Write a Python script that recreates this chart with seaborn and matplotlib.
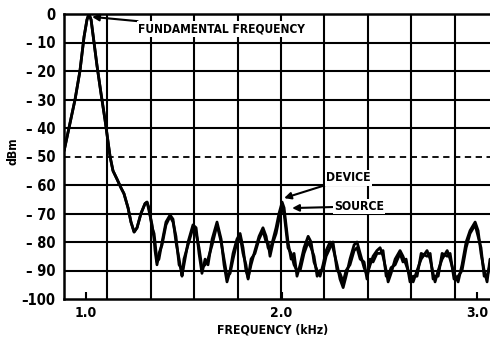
import matplotlib
matplotlib.use("Agg")
import matplotlib.pyplot as plt
import seaborn as sns
import pandas as pd
from matplotlib import font_manager as fm

FREQ = [
    0.888, 0.944, 0.969, 0.990, 1.005, 1.015, 1.026, 1.041, 1.056, 1.077,
    1.097, 1.107, 1.123, 1.138, 1.159, 1.179, 1.194, 1.215, 1.230, 1.246,
    1.261, 1.281, 1.302, 1.312, 1.322, 1.338, 1.348, 1.353, 1.363, 1.373,
    1.389, 1.409, 1.430, 1.445, 1.460, 1.476, 1.486, 1.491, 1.501, 1.522,
    1.547, 1.563, 1.578, 1.593, 1.609, 1.624, 1.645, 1.670, 1.691, 1.706,
    1.721, 1.737, 1.752, 1.772, 1.788, 1.803, 1.818, 1.829, 1.844, 1.864,
    1.885, 1.905, 1.921, 1.931, 1.941, 1.957, 1.972, 1.987, 2.003, 2.013,
    2.023, 2.033, 2.049, 2.064, 2.079, 2.095, 2.115, 2.136, 2.151, 2.166,
    2.182, 2.197, 2.212, 2.228, 2.248, 2.263, 2.284, 2.299, 2.315, 2.330,
    2.350, 2.371, 2.386, 2.402, 2.422, 2.437, 2.453, 2.468, 2.488, 2.504,
    2.519, 2.535, 2.545, 2.560, 2.581, 2.606, 2.621, 2.637, 2.657, 2.673,
    2.693, 2.714, 2.744, 2.760, 2.775, 2.785, 2.801, 2.821, 2.847, 2.862,
    2.882, 2.903, 2.923, 2.944, 2.964, 2.990, 3.005, 3.020, 3.036, 3.051,
    3.066,
]

DEVICE = [
    -48, -30, -20, -8, -2, 0, -2, -10, -18, -28,
    -37, -42, -50, -55, -58, -61, -63, -68, -73, -76.5,
    -75, -70, -66.5, -66, -68, -75, -77, -80, -87, -86,
    -80, -73, -70.5, -72, -80, -86, -90, -91.5, -88, -80,
    -74, -75, -84, -91, -86, -88, -79, -73, -79, -88,
    -94, -90, -84, -79, -77, -82, -90, -92.6, -88, -83,
    -78, -75, -78, -82, -83, -79, -75, -70, -66, -68,
    -74, -80, -86, -84, -92, -88, -82, -78, -80, -87,
    -90, -92, -88, -83, -80, -82, -88, -93, -96, -92,
    -86, -81, -80, -84, -89, -91.5, -88, -85, -83, -82,
    -85, -90, -94, -91, -86, -83, -85, -88, -92, -94,
    -90, -86, -83, -86, -91, -94, -90, -86, -83, -86,
    -91, -94, -88, -80, -76, -73, -76, -84, -90, -94,
    -86,
]

SOURCE = [
    -48, -30, -20, -8, -2, 0, -2, -10, -18, -28,
    -37, -42, -50, -55, -58, -61, -63, -68, -73, -76.5,
    -75, -70, -66.5, -66, -69, -74, -79, -83, -88, -84,
    -81, -74, -71, -73, -78, -88, -89, -92, -86, -81,
    -75, -77, -82, -89, -88, -86, -81, -74, -80, -86,
    -92, -91, -86, -80, -78, -84, -88, -93, -86, -84,
    -79, -76, -80, -80, -85, -80, -77, -72, -68, -70,
    -76, -82, -84, -88, -90, -90, -84, -80, -82, -85,
    -92, -90, -90, -85, -82, -80, -90, -91, -94, -90,
    -88, -83, -82, -86, -87, -93, -86, -87, -84, -84,
    -83, -92, -92, -89, -88, -84, -87, -86, -94, -92,
    -92, -84, -85, -84, -93, -92, -92, -84, -85, -84,
    -93, -92, -90, -82, -77, -74, -78, -82, -92, -92,
    -88,
]

X_TICKS = [1.0, 2.0, 3.0]
X_TICK_LABELS = ["1.0", "2.0", "3.0"]
Y_TICKS = [0, -10, -20, -30, -40, -50, -60, -70, -80, -90, -100]
Y_TICK_LABELS = ["0", "\u2013 10", "\u2013 20", "\u2013 30", "\u2013 40", "\u2013 50",
                 "\u2013 60", "\u2013 70", "\u2013 80", "\u2013 90", "\u2013100"]

sns.set_style("white")
names = {f.name for f in fm.fontManager.ttflist}
if "Liberation Sans Narrow" in names:
    FONT = ["Liberation Sans Narrow", "DejaVu Sans"]
    STRETCH = "normal"
else:
    FONT = ["DejaVu Sans"]
    STRETCH = "condensed"
plt.rcParams["font.family"] = FONT
plt.rcParams["font.weight"] = "bold"
plt.rcParams["font.stretch"] = STRETCH
plt.rcParams["text.color"] = "black"
plt.rcParams["axes.labelcolor"] = "black"
plt.rcParams["xtick.color"] = "black"
plt.rcParams["ytick.color"] = "black"

fig = plt.figure(figsize=(4.9, 3.44), dpi=100)
ax = fig.add_axes([64 / 490, 45 / 344, 1 - 64 / 490, 285 / 344])

x0, x1 = 0.8875, 3.066
step = 0.2219

# grid
for k in range(1, 10):
    ax.axvline(x0 + k * step, color="black", lw=1.5, zorder=1)
for yv in Y_TICKS[1:-1]:
    if yv == -50:
        ax.axhline(yv, color="black", lw=1.3, ls=(0, (3.5, 2.5)), zorder=1)
    else:
        ax.axhline(yv, color="black", lw=1.5, zorder=1)

df = pd.DataFrame({"freq": FREQ + FREQ, "dbm": DEVICE + SOURCE,
                   "trace": ["device"] * len(FREQ) + ["source"] * len(FREQ)})
sns.lineplot(data=df, x="freq", y="dbm", units="trace", estimator=None,
             color="black", lw=2.0, ax=ax, zorder=3, sort=False)

ax.set_xlim(x0, x1)
ax.set_ylim(-100, 0)

for side in ["left", "top", "bottom"]:
    ax.spines[side].set_visible(True)
    ax.spines[side].set_color("black")
    ax.spines[side].set_linewidth(1.8)
ax.spines["right"].set_visible(False)

ax.set_xticks(X_TICKS)
ax.set_xticklabels(X_TICK_LABELS, fontsize=10, fontweight="bold", fontstretch=STRETCH)
ax.set_yticks(Y_TICKS)
ax.set_yticklabels(Y_TICK_LABELS, fontsize=10.5, fontweight="bold", fontstretch=STRETCH)
ax.tick_params(axis="x", direction="in", length=5, width=1.5, pad=5, bottom=True)
ax.tick_params(axis="y", length=0, pad=6, left=False)

ax.set_xlabel("FREQUENCY (kHz)", fontsize=8.8, fontweight="bold", fontstretch=STRETCH)
ax.xaxis.set_label_coords(0.49, -0.085)
ax.set_ylabel("dBm", fontsize=8.8, fontweight="bold", fontstretch=STRETCH)
ax.yaxis.set_label_coords(-0.105, 0.52)

bb = dict(facecolor="white", edgecolor="none", pad=1.0)
arrow = dict(arrowstyle="-|>", color="black", lw=1.5, mutation_scale=10,
             shrinkA=0, shrinkB=0)
ax.annotate("FUNDAMENTAL FREQUENCY", xy=(1.031, -1), xytext=(1.266, -5.3),
            fontsize=8.6, fontweight="bold", fontstretch=STRETCH, color="black",
            va="center", ha="left", bbox=bb, arrowprops=arrow, zorder=5)
ax.annotate("DEVICE", xy=(2.013, -64.6), xytext=(2.228, -57.5),
            fontsize=8.8, fontweight="bold", fontstretch=STRETCH, color="black",
            va="center", ha="left", bbox=bb, arrowprops=arrow, zorder=5)
ax.annotate("SOURCE", xy=(2.054, -68.1), xytext=(2.268, -67.5),
            fontsize=8.8, fontweight="bold", fontstretch=STRETCH, color="black",
            va="center", ha="left", bbox=bb, arrowprops=arrow, zorder=5)

fig.savefig("out.png", dpi=100)
